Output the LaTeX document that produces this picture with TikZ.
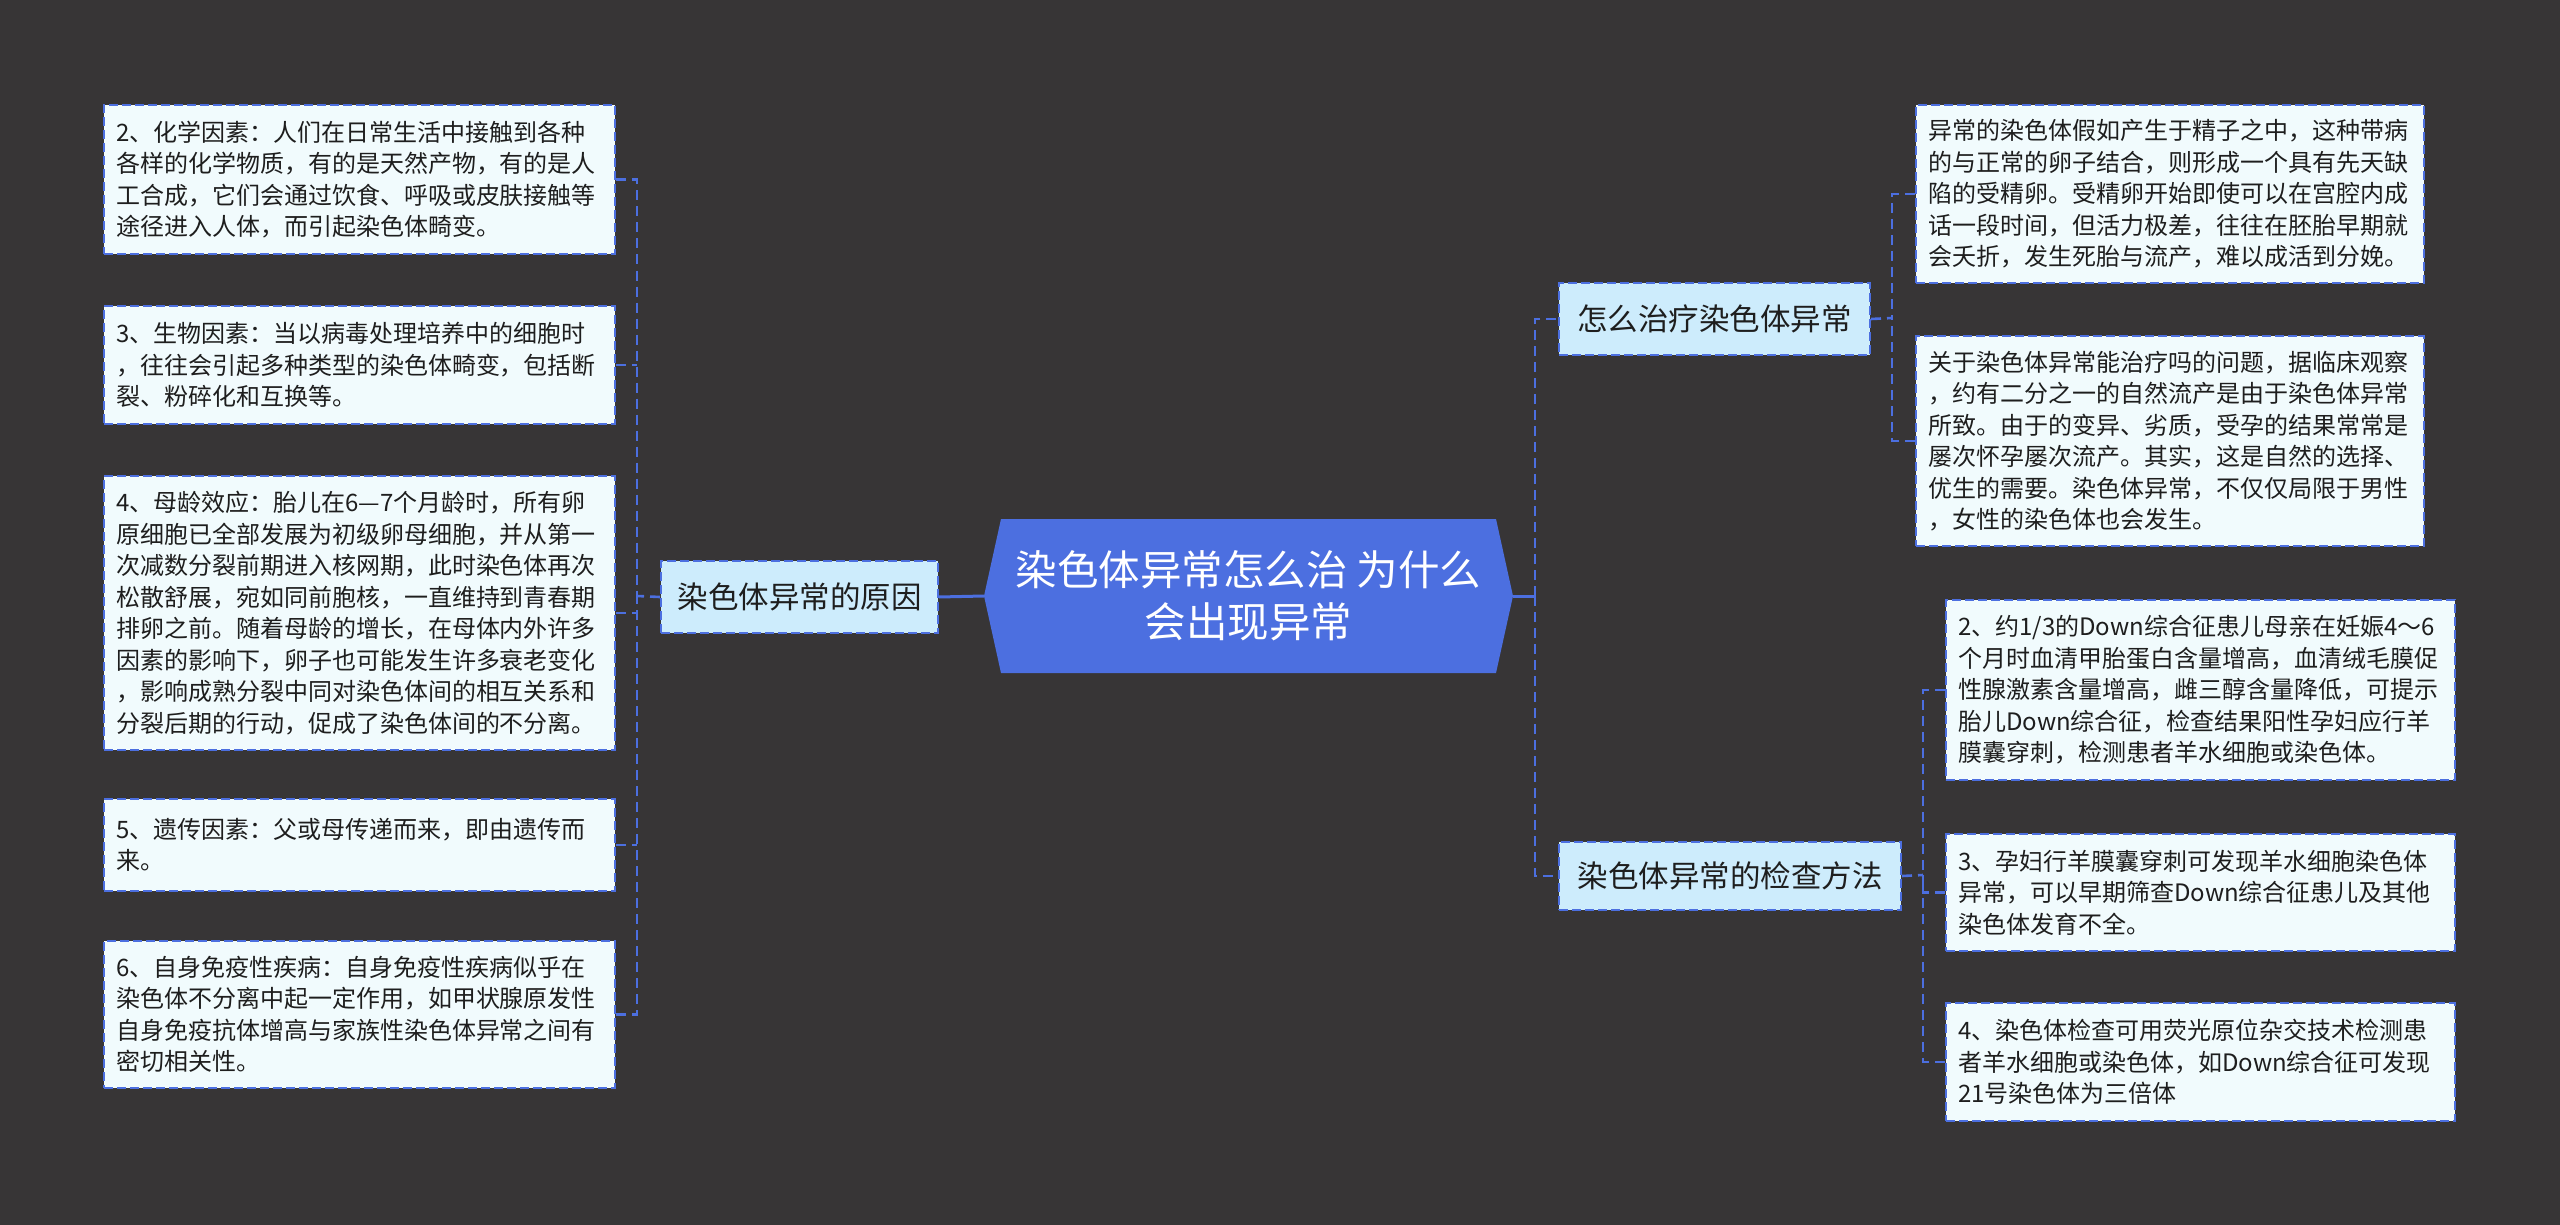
\documentclass[tikz,border=0pt]{standalone}
\usepackage{fontspec}
\newfontfamily\cjk{Noto Sans CJK SC}
\definecolor{bgc}{RGB}{55,53,54}
\definecolor{mainblue}{RGB}{76,111,224}
\definecolor{topicfill}{RGB}{205,236,252}
\definecolor{leaffill}{RGB}{241,251,253}
\definecolor{txt}{RGB}{30,30,30}
\tikzset{
  leaf/.style={draw=mainblue, line width=2pt, dash pattern=on 9pt off 4pt,
    fill=leaffill, text=txt, font=\cjk\fontsize{24}{31.5}\selectfont,
    align=left, text width=487pt, inner xsep=12pt, inner ysep=0pt, anchor=north west},
  topic/.style={draw=mainblue, line width=2pt, dash pattern=on 9pt off 4pt,
    fill=topicfill, text=txt, font=\cjk\fontsize{30.5}{36}\selectfont,
    inner sep=0pt, anchor=north west},
  conn/.style={draw=mainblue, line width=2.6pt, dash pattern=on 10pt off 6pt},
  solidconn/.style={draw=mainblue, line width=3pt},
  roottext/.style={text=white, font=\cjk\fontsize{41.5}{52}\selectfont, align=center,
    minimum width=529pt, minimum height=154pt, inner sep=0pt},
}
\begin{document}
\begin{tikzpicture}[x=1pt,y=-1pt]
\useasboundingbox (0,0) rectangle (2560,1225);
\fill[bgc] (0,0) rectangle (2560,1225);

% central topic
\fill[mainblue] (984,596) -- (1001,519) -- (1496,519) -- (1513,596) -- (1496,673) -- (1001,673) -- cycle;
\node[roottext] (root) at (1248.5,596) {染色体异常怎么治 为什么\\会出现异常};

% main topics
\node[topic, minimum width=277pt, minimum height=72pt] (cause) at (660,560) {染色体异常的原因};
\node[topic, minimum width=311pt, minimum height=72pt] (treat) at (1558,282) {怎么治疗染色体异常};
\node[topic, minimum width=342pt, minimum height=68pt] (check) at (1558,841) {染色体异常的检查方法};

% left leaves
\node[leaf, minimum height=149pt] (l1) at (103,104) {2、化学因素：人们在日常生活中接触到各种\\各样的化学物质，有的是天然产物，有的是人\\工合成，它们会通过饮食、呼吸或皮肤接触等\\途径进入人体，而引起染色体畸变。};
\node[leaf, minimum height=118pt] (l2) at (103,305) {3、生物因素：当以病毒处理培养中的细胞时\\，往往会引起多种类型的染色体畸变，包括断\\裂、粉碎化和互换等。};
\node[leaf, minimum height=274pt] (l3) at (103,475) {4、母龄效应：胎儿在6—7个月龄时，所有卵\\原细胞已全部发展为初级卵母细胞，并从第一\\次减数分裂前期进入核网期，此时染色体再次\\松散舒展，宛如同前胞核，一直维持到青春期\\排卵之前。随着母龄的增长，在母体内外许多\\因素的影响下，卵子也可能发生许多衰老变化\\，影响成熟分裂中同对染色体间的相互关系和\\分裂后期的行动，促成了染色体间的不分离。};
\node[leaf, minimum height=92pt] (l4) at (103,798) {5、遗传因素：父或母传递而来，即由遗传而\\来。};
\node[leaf, minimum height=147pt] (l5) at (103,940) {6、自身免疫性疾病：自身免疫性疾病似乎在\\染色体不分离中起一定作用，如甲状腺原发性\\自身免疫抗体增高与家族性染色体异常之间有\\密切相关性。};

% right leaves
\node[leaf, text width=484pt, minimum height=178pt] (r1) at (1915,104) {异常的染色体假如产生于精子之中，这种带病\\的与正常的卵子结合，则形成一个具有先天缺\\陷的受精卵。受精卵开始即使可以在宫腔内成\\话一段时间，但活力极差，往往在胚胎早期就\\会夭折，发生死胎与流产，难以成活到分娩。};
\node[leaf, text width=484pt, minimum height=210pt] (r2) at (1915,335) {关于染色体异常能治疗吗的问题，据临床观察\\，约有二分之一的自然流产是由于染色体异常\\所致。由于的变异、劣质，受孕的结果常常是\\屡次怀孕屡次流产。其实，这是自然的选择、\\优生的需要。染色体异常，不仅仅局限于男性\\，女性的染色体也会发生。};
\node[leaf, text width=485pt, minimum height=180pt] (r3) at (1945,599) {2、约1/3的Down综合征患儿母亲在妊娠4～6\\个月时血清甲胎蛋白含量增高，血清绒毛膜促\\性腺激素含量增高，雌三醇含量降低，可提示\\胎儿Down综合征，检查结果阳性孕妇应行羊\\膜囊穿刺，检测患者羊水细胞或染色体。};
\node[leaf, text width=485pt, minimum height=117pt] (r4) at (1945,833) {3、孕妇行羊膜囊穿刺可发现羊水细胞染色体\\异常，可以早期筛查Down综合征患儿及其他\\染色体发育不全。};
\node[leaf, text width=485pt, minimum height=118pt] (r5) at (1945,1002) {4、染色体检查可用荧光原位杂交技术检测患\\者羊水细胞或染色体，如Down综合征可发现\\21号染色体为三倍体};

% bus points
\coordinate (lbus) at (637,596);
\coordinate (rbus) at (1535,596);
\coordinate (tbus) at (1892,318);
\coordinate (cbus) at (1923,875);

% connectors
\draw[solidconn] (root.west) -- (cause.east);
\draw[solidconn] (root.east) -- (rbus);
\draw[conn] (rbus) |- (treat.west);
\draw[conn] (rbus) |- (check.west);

\draw[conn] (cause.west) -- (lbus);
\draw[conn] (l1.east) -| (lbus);
\draw[conn] (l2.east) -- (l2.east -| lbus);
\draw[conn] (l3.east) -- (l3.east -| lbus);
\draw[conn] (l4.east) -- (l4.east -| lbus);
\draw[conn] (l5.east) -| (lbus);

\draw[conn] (treat.east) -- (tbus);
\draw[conn] (r1.west) -| (tbus);
\draw[conn] (r2.west) -| (tbus);

\draw[conn] (check.east) -- (cbus);
\draw[conn] (r3.west) -| (cbus);
\draw[conn] (r4.west) -| (cbus);
\draw[conn] (r5.west) -| (cbus);
\end{tikzpicture}
\end{document}
